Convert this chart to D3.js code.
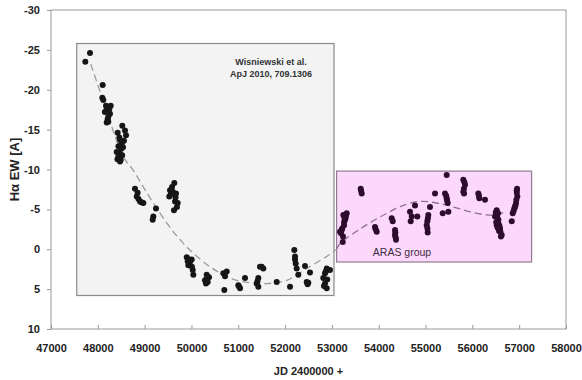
<!DOCTYPE html>
<html>
<head>
<meta charset="utf-8">
<script src="https://cdn.jsdelivr.net/npm/d3@7"></script>
<style>
  body { margin: 0; background: #fff; }
  svg { display: block; font-family: "Liberation Sans", Arial, sans-serif; }
</style>
</head>
<body>
<svg id="chart" width="582" height="380"></svg>
<script>
// data: [JD - 2400000, H-alpha EW]
var wisniewski = [
  [47833,-24.6],[47733,-23.5],[48104,-20.6],[48096,-19.0],[48117,-18.7],[48175,-18.0],
  [48275,-18.0],[48245,-17.6],[48190,-17.6],[48224,-16.6],[48190,-15.9],[48224,-16.0],
  [48150,-17.2],[48260,-17.0],[48210,-16.3],
  [48523,-15.5],[48425,-14.6],[48602,-14.3],[48474,-13.7],[48559,-13.6],[48510,-13.3],
  [48403,-12.2],[48474,-12.0],[48438,-11.6],[48489,-11.2],[48474,-11.0],[48538,-12.8],
  [48460,-14.0],[48500,-12.6],[48440,-12.9],[48520,-11.8],[48580,-14.9],[48420,-11.3],
  [48794,-7.6],[48831,-6.6],[48901,-6.0],[48972,-5.8],[48869,-6.3],[48850,-7.1],[48930,-5.9],
  [49243,-5.1],[49185,-4.1],[49172,-3.7],
  [49634,-8.3],[49542,-7.4],[49670,-7.0],[49527,-6.6],[49649,-6.0],[49706,-5.8],
  [49627,-4.9],[49585,-7.8],[49600,-7.2],[49660,-6.5],[49560,-6.9],[49690,-5.3],
  [49899,1.0],[50005,1.3],[49933,2.0],[50027,2.6],[50040,3.2],[49969,1.6],
  [49950,1.3],[50010,2.2],[49920,1.5],
  [50326,3.2],[50289,3.9],[50347,4.1],[50375,3.5],[50330,3.7],[50310,4.3],
  [50680,3.0],[50753,2.8],[50717,3.4],[50702,5.1],
  [51001,4.5],[51037,4.9],[51020,4.7],[51144,3.6],
  [51464,2.2],[51535,2.4],[51500,2.2],[51428,3.6],[51394,4.3],[51428,4.7],[51410,4.0],
  [51821,4.1],[52105,4.7],
  [52197,0.1],[52212,0.9],[52227,1.8],[52248,2.4],[52212,1.3],
  [52425,2.1],[52282,3.2],[52532,2.9],[52462,4.1],[52496,4.2],[52480,4.4],
  [52889,2.4],[52853,3.0],[52816,3.6],[52853,4.3],[52889,4.9],[52959,2.6],
  [52870,2.8],[52900,3.8],[52830,4.6]
]
var aras = [
  [53244,-4.3],[53280,-3.7],[53259,-3.0],[53209,-2.4],[53173,-2.2],[53231,-0.9],
  [53316,-4.5],[53290,-3.9],[53237,-1.6],[53260,-3.4],[53300,-4.2],[53220,-2.6],
  [53195,-2.0],[53270,-3.9],
  [53615,-7.6],[53637,-7.0],[53625,-7.3],
  [53921,-2.8],[53957,-2.2],[53935,-2.5],
  [54277,-3.9],[54299,-3.5],[54348,-2.4],[54348,-1.8],[54369,-1.2],[54355,-2.1],[54360,-1.5],
  [54668,-4.7],[54705,-4.1],[54683,-3.5],[54824,-4.1],[54775,-5.5],
  [55095,-5.3],[55059,-4.3],[55038,-3.5],[55025,-3.0],[55046,-2.1],[55050,-3.9],[55040,-2.6],
  [55202,-7.0],[55452,-9.3],[55416,-7.0],[55452,-6.4],[55473,-5.8],[55440,-6.7],[55460,-6.1],
  [55367,-4.5],[55487,-4.7],
  [55807,-8.7],[55843,-8.1],[55807,-7.2],[55822,-7.0],[55820,-7.6],[55830,-8.4],
  [56127,-7.0],[56149,-6.4],[56140,-6.7],[56270,-6.2],
  [56520,-4.9],[56484,-4.1],[56555,-3.7],[56520,-3.0],[56591,-2.6],[56627,-1.8],
  [56548,-4.5],[56570,-2.3],[56500,-4.6],[56530,-4.0],[56510,-3.4],[56560,-3.2],
  [56580,-2.9],[56600,-2.2],[56540,-2.7],[56610,-1.6],
  [56841,-3.5],
  [56947,-7.4],[56960,-6.6],[56932,-5.8],[56896,-5.1],[56862,-4.5],
  [56950,-7.1],[56940,-6.2],[56920,-5.5],[56880,-4.8],[56910,-5.3],[56955,-7.6]
]
// dashed fit line
var fitOld = [
  [47850,-23.2],[48100,-18.9],[48544,-11.6],[48758,-9.9],[48972,-7.8],[49185,-5.8],
  [49471,-3.3],[49755,-1.2],[50040,0.5],[50396,2.2],[50680,3.2],[50966,3.9],
  [51251,4.2],[51607,4.3],[52035,3.9],[52462,2.4],[52889,0.9],[53100,0.0]
]
var fitNew = [
  [53100,0.0],[53173,-0.7],[53671,-2.8],[54171,-4.5],[54525,-5.5],[54882,-6.0],
  [55238,-5.8],[55593,-5.3],[55950,-4.7],[56307,-4.3],[56520,-4.3],[56697,-4.7]
]
// shaded boxes [x0, x1, y0, y1]
var boxOld = [47550, 53045, -25.8, 5.8]
var boxNew = [53100, 57265, -9.8, 1.6]
var xTicks = d3.range(47000, 58001, 1000)
var yTicks = [-30,-25,-20,-15,-10,-5,0,5,10]

var svg = d3.select('#chart')
var m = {left: 51, right: 566, top: 10, bottom: 329}

var x = d3.scaleLinear().domain([47000, 58000]).range([m.left, m.right])
var y = d3.scaleLinear().domain([-30, 10]).range([m.top, m.bottom])

// plot area frame
svg.append('rect')
  .attr('x', m.left).attr('y', m.top)
  .attr('width', m.right - m.left).attr('height', m.bottom - m.top)
  .attr('fill', '#fff').attr('stroke', '#9a9a9a').attr('stroke-width', 1)

function box(b, fill, stroke) {
  svg.append('rect')
    .attr('x', x(b[0])).attr('y', y(b[2]))
    .attr('width', x(b[1]) - x(b[0])).attr('height', y(b[3]) - y(b[2]))
    .attr('fill', fill).attr('stroke', stroke).attr('stroke-width', 1.2)
}
box(boxOld, '#f3f3f3', '#8a8a8a')
box(boxNew, '#fdd8fd', '#8e7c8e')

var line = d3.line().curve(d3.curveCatmullRom)
  .x(d => x(d[0])).y(d => y(d[1]))

svg.append('path').attr('d', line(fitOld))
  .attr('fill', 'none').attr('stroke', '#9c9c9c')
  .attr('stroke-width', 1.3).attr('stroke-dasharray', '7,4')
svg.append('path').attr('d', line(fitNew))
  .attr('fill', 'none').attr('stroke', '#8f6f8f')
  .attr('stroke-width', 1.3).attr('stroke-dasharray', '7,4')

svg.append('g').selectAll('circle')
  .data(wisniewski).enter().append('circle')
  .attr('cx', d => x(d[0])).attr('cy', d => y(d[1]))
  .attr('r', 3).attr('fill', '#161616')

svg.append('g').selectAll('circle')
  .data(aras).enter().append('circle')
  .attr('cx', d => x(d[0])).attr('cy', d => y(d[1]))
  .attr('r', 3).attr('fill', '#2e0c2e')

// annotations
var note = svg.append('text')
  .attr('text-anchor', 'middle')
  .attr('font-size', '9px').attr('font-weight', 'bold').attr('fill', '#333')
note.append('tspan').attr('x', 271).attr('y', 64.5).text('Wisniewski et al.')
note.append('tspan').attr('x', 271).attr('y', 76.5).text('ApJ 2010, 709.1306')

svg.append('text')
  .attr('x', 402).attr('y', 256)
  .attr('text-anchor', 'middle')
  .attr('font-size', '10.5px').attr('fill', '#3d2d3d')
  .text('ARAS group')

// axes
var xAxis = svg.append('g')
  .attr('transform', `translate(0,${m.bottom})`)
  .call(d3.axisBottom(x).tickValues(xTicks).tickFormat(d => String(d))
    .tickSizeInner(-4).tickSizeOuter(0).tickPadding(15))
var yAxis = svg.append('g')
  .attr('transform', `translate(${m.left},0)`)
  .call(d3.axisLeft(y).tickValues(yTicks).tickFormat(d => String(d))
    .tickSizeInner(4).tickSizeOuter(0).tickPadding(7))

;[xAxis, yAxis].forEach(function(g) {
  g.select('.domain').remove()
  g.selectAll('line').attr('stroke', '#9a9a9a')
  g.selectAll('text')
    .attr('font-family', '"Liberation Sans", Arial, sans-serif')
    .attr('font-size', '11px').attr('font-weight', 'bold').attr('fill', '#222')
})

svg.append('text')
  .attr('x', (m.left + m.right) / 2).attr('y', 375)
  .attr('text-anchor', 'middle')
  .attr('font-size', '11px').attr('font-weight', 'bold').attr('fill', '#222')
  .text('JD 2400000 +')

svg.append('text')
  .attr('transform', `translate(19,${(m.top + m.bottom) / 2}) rotate(-90)`)
  .attr('text-anchor', 'middle')
  .attr('font-size', '13px').attr('font-weight', 'bold').attr('fill', '#222')
  .text('Hα EW [A]')
</script>
</body>
</html>
